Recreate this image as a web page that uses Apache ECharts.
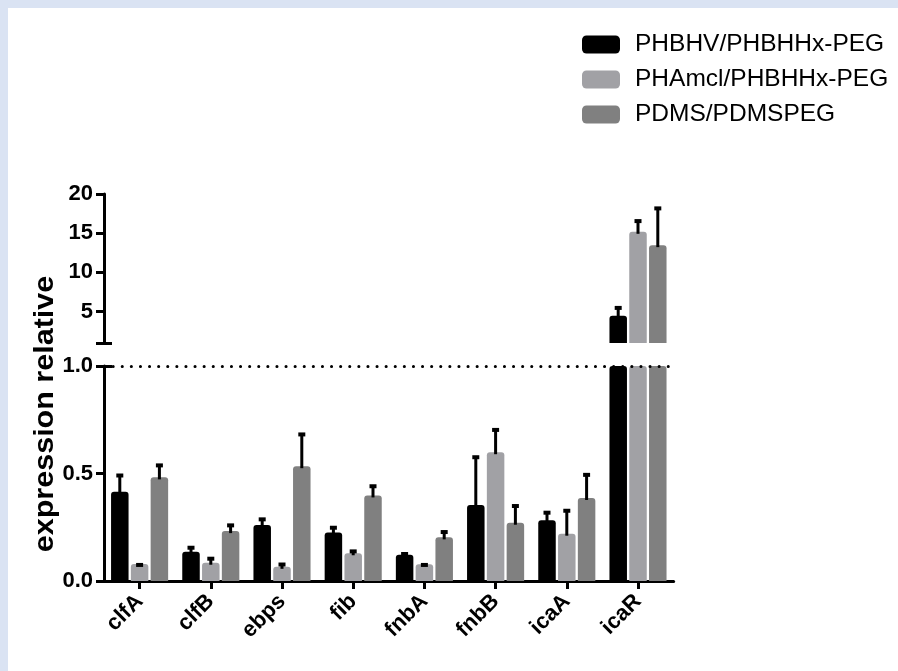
<!DOCTYPE html>
<html>
<head>
<meta charset="utf-8">
<script src="https://cdn.jsdelivr.net/npm/echarts@6/dist/echarts.min.js"></script>
<style>
html,body{margin:0;padding:0;background:#fff;}
#c{width:898px;height:671px;box-shadow:inset 8px 8px 0 0 #dae3f3;}
</style>
</head>
<body>
<div id="c"></div>
<script>
const categories = ['clfA','clfB','ebps','fib','fnbA','fnbB','icaA','icaR'];
const seriesNames = ['PHBHV/PHBHHx-PEG','PHAmcl/PHBHHx-PEG','PDMS/PDMSPEG'];
const phbhv     = [0.415, 0.136, 0.260, 0.226, 0.122, 0.354, 0.283, 4.49];
const phbhvErr  = [0.085, 0.028, 0.036, 0.031, 0.013, 0.231, 0.044, 1.24];
const phamcl    = [0.079, 0.085, 0.066, 0.129, 0.078, 0.599, 0.220, 15.18];
const phamclErr = [0.005, 0.028, 0.020, 0.018, 0.006, 0.113, 0.116, 1.62];
const pdms      = [0.482, 0.232, 0.534, 0.398, 0.203, 0.271, 0.386, 13.48];
const pdmsErr   = [0.065, 0.036, 0.157, 0.052, 0.034, 0.087, 0.117, 4.94];
const lowerTicks = [0, 0.5, 1];
const upperTicks = [5, 10, 15, 20];
const breakValue = 1;
const yTitle = 'expression relative';

const values = [phbhv, phamcl, pdms];
const errors = [phbhvErr, phamclErr, pdmsErr];
const colors = ['#000000', '#a1a1a5', '#808080'];

const BAR_W = 17.5;
const GAP = 2.3;
const step = BAR_W + GAP;
const offsets = [-step, 0, step];
const FONT = 'Liberation Sans, Arial, Helvetica, sans-serif';

const chart = echarts.init(document.getElementById('c'));

const series = [];
values.forEach((vals, k) => {
  series.push({
    name: seriesNames[k], type: 'bar', xAxisIndex: 0, yAxisIndex: 0,
    data: vals, barWidth: BAR_W, barGap: (GAP / BAR_W * 100).toFixed(1) + '%',
    itemStyle: { color: colors[k], borderRadius: [3, 3, 0, 0] },
    clip: true, z: 2,
    markLine: k === 0 ? {
      silent: true, symbol: 'none', label: { show: false },
      lineStyle: { color: '#000', width: 3, type: [0.1, 9], cap: 'round' },
      data: [{ yAxis: breakValue }], z: 5
    } : undefined
  });
});
values.forEach((vals, k) => {
  series.push({
    name: seriesNames[k], type: 'bar', xAxisIndex: 1, yAxisIndex: 1,
    data: vals.map(v => v > breakValue ? v : '-'),
    barWidth: BAR_W, barGap: (GAP / BAR_W * 100).toFixed(1) + '%',
    itemStyle: { color: colors[k], borderRadius: [3, 3, 0, 0] },
    clip: true, z: 2
  });
});
function errSeries(k, lower) {
  const data = [];
  values[k].forEach((v, i) => {
    if ((lower && v <= breakValue) || (!lower && v > breakValue)) data.push([i, v, v + errors[k][i]]);
  });
  return {
    type: 'custom', xAxisIndex: lower ? 0 : 1, yAxisIndex: lower ? 0 : 1, z: 4,
    data: data, silent: true,
    renderItem(params, api) {
      const i = api.value(0), v = api.value(1), t = api.value(2);
      const b = api.coord([i, v]), tp = api.coord([i, t]);
      const x = b[0] + offsets[k];
      return { type: 'group', children: [
        { type: 'line', shape: { x1: x, y1: b[1] + 2, x2: x, y2: tp[1] + 1 }, style: { stroke: '#000', lineWidth: 3 } },
        { type: 'rect', shape: { x: x - 3.5, y: tp[1], width: 7, height: 4 }, style: { fill: '#000' } }
      ] };
    }
  };
}
for (let k = 0; k < 3; k++) { series.push(errSeries(k, true)); series.push(errSeries(k, false)); }

const axisLine = { show: true, lineStyle: { color: '#000', width: 3 } };
const tickStyle = { color: '#000', width: 3 };
const labelStyle = { color: '#000', fontFamily: FONT, fontWeight: 'bold', fontSize: 22 };

const option = {
  animation: false,
  backgroundColor: 'transparent',
  legend: {
    orient: 'vertical', left: 582, top: 32, padding: 0,
    itemWidth: 38, itemHeight: 18, itemGap: 10,
    icon: 'roundRect',
    data: seriesNames,
    textStyle: { color: '#000', fontFamily: FONT, fontSize: 24.5, padding: [0, 0, 0, 10] }
  },
  grid: [
    { left: 104, top: 366, width: 569.6, height: 215 },
    { left: 104, top: 194, width: 569.6, height: 149 }
  ],
  xAxis: [
    { type: 'category', gridIndex: 0, data: categories,
      axisLine: axisLine,
      axisTick: { show: true, alignWithLabel: true, length: 8, lineStyle: tickStyle },
      axisLabel: Object.assign({ rotate: 45, margin: 17, interval: 0 }, labelStyle) },
    { type: 'category', gridIndex: 1, data: categories, show: false }
  ],
  yAxis: [
    { type: 'value', gridIndex: 0, min: 0, max: 1, interval: 0.5,
      axisLine: axisLine, splitLine: { show: false },
      axisTick: { show: true, length: 8, lineStyle: tickStyle, customValues: lowerTicks },
      axisLabel: Object.assign({ margin: 11, customValues: lowerTicks, formatter: v => v.toFixed(1) }, labelStyle) },
    { type: 'value', gridIndex: 1, min: breakValue, max: 20,
      axisLine: axisLine, splitLine: { show: false },
      axisTick: { show: true, length: 8, lineStyle: tickStyle, customValues: [breakValue].concat(upperTicks) },
      axisLabel: Object.assign({ margin: 11, customValues: upperTicks, formatter: v => String(v) }, labelStyle) },
    { type: 'value', gridIndex: 0, min: 0, max: 1, offset: 0, position: 'left',
      axisLine: { show: false }, splitLine: { show: false }, axisLabel: { show: false },
      axisTick: { show: true, inside: true, length: 8, lineStyle: tickStyle, customValues: [breakValue] } },
    { type: 'value', gridIndex: 1, min: breakValue, max: 20, offset: 0, position: 'left',
      axisLine: { show: false }, splitLine: { show: false }, axisLabel: { show: false },
      axisTick: { show: true, inside: true, length: 8, lineStyle: tickStyle, customValues: [breakValue] } }
  ],
  graphic: [
    { type: 'text', x: 46, y: 414, rotation: Math.PI / 2, scaleX: 1.13, scaleY: 1,
      style: { text: yTitle, fill: '#000', font: 'bold 27px ' + FONT, align: 'center', verticalAlign: 'middle' } }
  ],
  series: series
};
chart.setOption(option);
</script>
</body>
</html>
